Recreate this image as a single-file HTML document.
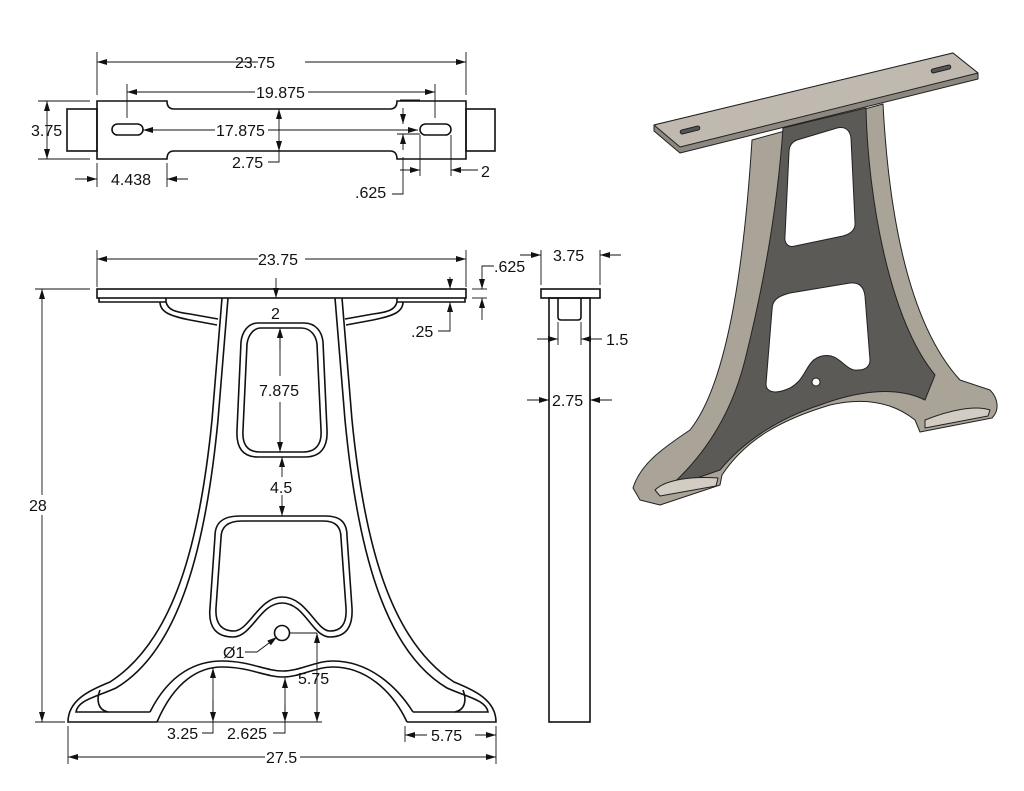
<!DOCTYPE html>
<html><head><meta charset="utf-8"><style>
html,body{margin:0;padding:0;background:#fff}
svg{display:block}
text{font-family:"Liberation Sans",Arial,sans-serif;font-size:16px;fill:#111}
</style></head><body>
<svg width="1024" height="791" viewBox="0 0 1024 791" xmlns="http://www.w3.org/2000/svg">
<defs>
<marker id="a" viewBox="0 0 10 6" refX="10" refY="3" markerWidth="10" markerHeight="6" orient="auto-start-reverse" markerUnits="userSpaceOnUse"><path d="M0,0 L10,3 L0,6 Z" fill="#111"/></marker>
</defs>
<g fill="none" stroke="#111" stroke-width="1.6">
<rect x="67" y="109" width="30" height="42"/>
<rect x="466" y="109" width="29" height="42"/>
<path d="M97,101 L167,101 C167,106 169,109 174,109 L390,109 C395,109 397,106 397,101 L466,101 L466,159 L397,159 C397,154 395,151 390,151 L174,151 C169,151 167,154 167,159 L97,159 Z"/>
<rect x="112" y="124" width="31" height="11" rx="5.5"/>
<rect x="420" y="124" width="31" height="11" rx="5.5"/>
</g>
<g stroke="#111" stroke-width="0.9" fill="none">
<line x1="97" y1="52" x2="97" y2="95"/><line x1="466" y1="52" x2="466" y2="95"/>
<line x1="97" y1="62" x2="258" y2="62" marker-start="url(#a)"/><line x1="305" y1="62" x2="466" y2="62" marker-end="url(#a)"/>
<line x1="127" y1="84" x2="127" y2="118"/><line x1="435" y1="84" x2="435" y2="118"/>
<line x1="127" y1="92" x2="255" y2="92" marker-start="url(#a)"/><line x1="308" y1="92" x2="435" y2="92" marker-end="url(#a)"/>
<line x1="143" y1="130" x2="215" y2="130" marker-start="url(#a)"/><line x1="268" y1="130" x2="418" y2="130" marker-end="url(#a)"/>
<line x1="38" y1="101" x2="90" y2="101"/><line x1="38" y1="159" x2="90" y2="159"/>
<line x1="47" y1="101" x2="47" y2="159" marker-start="url(#a)" marker-end="url(#a)"/>
<line x1="279" y1="109" x2="279" y2="151" marker-start="url(#a)" marker-end="url(#a)"/>
<polyline points="279,151 279,162 268,162"/>
<line x1="97" y1="163" x2="97" y2="187"/><line x1="167" y1="163" x2="167" y2="187"/>
<line x1="75" y1="179" x2="97" y2="179" marker-end="url(#a)"/><line x1="188" y1="179" x2="167" y2="179" marker-end="url(#a)"/>
<line x1="400" y1="100" x2="420" y2="100"/>
<line x1="403" y1="108" x2="403" y2="124" marker-end="url(#a)"/>
<line x1="397" y1="134" x2="420" y2="134"/>
<polyline points="403,157 403,194 392,194"/>
<line x1="403" y1="134" x2="403" y2="150" marker-start="url(#a)"/>
<line x1="420" y1="135" x2="420" y2="176"/>
<line x1="400" y1="170" x2="420" y2="170" marker-end="url(#a)"/>
<line x1="451" y1="135" x2="451" y2="176"/>
<line x1="478" y1="170" x2="451" y2="170" marker-end="url(#a)"/>
</g>
<text x="235" y="68">23.75</text>
<text x="256" y="98">19.875</text>
<text x="216" y="136">17.875</text>
<text x="31" y="136">3.75</text>
<text x="232" y="168">2.75</text>
<text x="111" y="185">4.438</text>
<text x="355" y="198">.625</text>
<text x="481" y="177">2</text>

<g fill="none" stroke="#111" stroke-width="1.6">
<rect x="97" y="289" width="369" height="9"/>
<path d="M99,298 L99,302 L166,302 M166,298 L166,302 M397,298 L397,302 L465,302 L465,298"/>
<path d="M166,302 C168,310 175,312 190,314 L218,319"/>
<path d="M160,302 C160,312 170,316 190,320 L217,325"/>
<path d="M397,302 C395,310 388,312 373,314 L345,319"/>
<path d="M403,302 C403,312 393,316 373,320 L346,325"/>
<path d="M222,298 L212,420 C200,540 175,640 110,682 C90,690 68,700 68,722 L157,722"/>
<path d="M228,298 L218,420 C206,545 180,650 116,688 C96,697 78,700 76,712 L150,712"/>
<path d="M100,690 C96,700 98,710 108,712"/>
<path d="M342,298 L352,420 C364,540 389,640 454,682 C474,690 496,700 496,722 L407,722"/>
<path d="M335,298 L345,420 C357,545 383,650 447,688 C467,697 486,700 488,712 L413,712"/>
<path d="M463,690 C467,700 465,710 455,712"/>
<path d="M157,722 C175,680 200,667 222,667 C250,667 265,677 283,677 C300,677 315,667 333,667 C365,667 392,690 407,722"/>
<path d="M150,712 C170,672 198,661 222,661 C250,661 265,671 283,671 C300,671 315,661 333,661 C368,661 396,685 413,712"/>
<path d="M258,323 L304,323 C316,323 322,332 323,342 L327,430 C328,448 320,457 305,457 L258,457 C243,457 236,448 237,430 L241,342 C242,332 248,323 258,323 Z"/>
<path d="M261,328 L301,328 C311,328 316,336 317,344 L321,430 C322,444 316,452 303,452 L260,452 C247,452 242,444 243,430 L247,344 C248,336 253,328 261,328 Z"/>
<path d="M215,536 C215,521 225,516 240,516 L325,516 C340,516 347,522 347,536 L352,608 C353,628 345,637 330,637 C312,637 305,603 282,603 C260,603 252,637 233,637 C217,637 208,628 210,608 Z"/>
<path d="M221,538 C221,526 229,521 242,521 L323,521 C336,521 341,527 341,538 L346,608 C347,624 341,631 330,631 C316,631 307,597 282,597 C259,597 249,631 234,631 C222,631 215,624 216,608 Z"/>
<circle cx="282" cy="633" r="7.5"/>
<rect x="541" y="289" width="59" height="9"/>
<rect x="549" y="298" width="41" height="424"/>
<path d="M558,298 L558,317 Q558,320 561,320 L578,320 Q581,320 581,317 L581,298"/>
</g>
<g stroke="#111" stroke-width="0.9" fill="none">
<line x1="97" y1="250" x2="97" y2="287"/><line x1="466" y1="250" x2="466" y2="287"/>
<line x1="97" y1="259" x2="258" y2="259" marker-start="url(#a)"/><line x1="305" y1="259" x2="466" y2="259" marker-end="url(#a)"/>
<line x1="276" y1="278" x2="276" y2="298" marker-end="url(#a)"/>
<line x1="35" y1="289" x2="90" y2="289"/><line x1="35" y1="722" x2="65" y2="722"/>
<line x1="42" y1="289" x2="42" y2="495" marker-start="url(#a)"/><line x1="42" y1="515" x2="42" y2="722" marker-end="url(#a)"/>
<line x1="450" y1="277" x2="450" y2="289" marker-end="url(#a)"/>
<polyline points="450,302 450,331 438,331"/>
<line x1="450" y1="310" x2="450" y2="302" marker-end="url(#a)"/>
<line x1="472" y1="289" x2="487" y2="289"/><line x1="472" y1="298" x2="487" y2="298"/>
<polyline points="494,266 482,266 482,289" marker-end="url(#a)"/>
<line x1="482" y1="320" x2="482" y2="298" marker-end="url(#a)"/>
<line x1="280" y1="350" x2="280" y2="328" marker-end="url(#a)"/>
<line x1="280" y1="376" x2="280" y2="328" marker-end="url(#a)"/>
<line x1="280" y1="402" x2="280" y2="452" marker-end="url(#a)"/>
<line x1="282" y1="477" x2="282" y2="457" marker-end="url(#a)"/>
<line x1="282" y1="495" x2="282" y2="516" marker-end="url(#a)"/>
<polyline points="245,652 257,652 277,637" marker-end="url(#a)"/>
<line x1="290" y1="633" x2="317" y2="633"/>
<line x1="317" y1="700" x2="317" y2="633" marker-end="url(#a)"/>
<line x1="317" y1="700" x2="317" y2="722" marker-end="url(#a)"/>
<line x1="157" y1="722" x2="322" y2="722"/>
<polyline points="202,733 213,733 213,700"/>
<line x1="213" y1="700" x2="213" y2="668" marker-end="url(#a)"/>
<line x1="213" y1="700" x2="213" y2="722" marker-end="url(#a)"/>
<polyline points="273,733 285,733 285,705"/>
<line x1="285" y1="705" x2="285" y2="678" marker-end="url(#a)"/>
<line x1="285" y1="705" x2="285" y2="722" marker-end="url(#a)"/>
<line x1="405" y1="726" x2="405" y2="742"/><line x1="496" y1="726" x2="496" y2="764"/>
<line x1="427" y1="735" x2="405" y2="735" marker-end="url(#a)"/><line x1="475" y1="735" x2="496" y2="735" marker-end="url(#a)"/>
<line x1="68" y1="726" x2="68" y2="764"/>
<line x1="68" y1="757" x2="265" y2="757" marker-start="url(#a)"/><line x1="300" y1="757" x2="496" y2="757" marker-end="url(#a)"/>
<line x1="541" y1="250" x2="541" y2="285"/><line x1="600" y1="250" x2="600" y2="285"/>
<line x1="520" y1="255" x2="541" y2="255" marker-end="url(#a)"/><line x1="621" y1="255" x2="600" y2="255" marker-end="url(#a)"/>
<line x1="558" y1="322" x2="558" y2="345"/><line x1="581" y1="322" x2="581" y2="345"/>
<line x1="537" y1="339" x2="558" y2="339" marker-end="url(#a)"/><line x1="602" y1="339" x2="581" y2="339" marker-end="url(#a)"/>
<line x1="527" y1="400" x2="549" y2="400" marker-end="url(#a)"/><line x1="612" y1="400" x2="590" y2="400" marker-end="url(#a)"/>
</g>
<text x="258" y="265">23.75</text>
<text x="271" y="319">2</text>
<text x="259" y="396">7.875</text>
<text x="270" y="493">4.5</text>
<text x="29" y="511">28</text>
<text x="411" y="337">.25</text>
<text x="494" y="272">.625</text>
<text x="223" y="658">Ø1</text>
<text x="298" y="684">5.75</text>
<text x="167" y="739">3.25</text>
<text x="227" y="739">2.625</text>
<text x="431" y="741">5.75</text>
<text x="266" y="763">27.5</text>
<text x="553" y="261">3.75</text>
<text x="606" y="345">1.5</text>
<text x="552" y="406">2.75</text>

<g stroke="#222" stroke-width="1" stroke-linejoin="round">
<path d="M654,125 L953,53 L978,73 L978,79 L680,153 L654,131 Z" fill="#8d887f"/>
<path d="M654,125 L953,53 L978,73 L680,147 Z" fill="#bfb9af"/>
<path d="M752,140 L883,104 C888,200 905,320 960,380 L990,390 C998,398 1000,410 992,418 L920,432 L915,420 C890,400 860,398 830,405 C780,420 745,440 722,475 L720,485 L660,505 L640,500 L633,488 C640,465 660,450 690,430 C730,380 745,250 752,140 Z" fill="#a9a398"/>
<path d="M783,128 L866,108 C868,200 890,320 935,375 L925,400 C895,385 855,392 820,405 C780,418 745,440 720,470 L668,488 C700,460 730,420 745,360 C765,280 778,200 783,128 Z" fill="#5c5a56"/>
<path d="M797,140 L837,128 C845,126 850,130 851,138 L855,222 C856,230 850,234 843,236 L795,246 C788,248 784,243 785,236 L789,152 C789,146 792,142 797,140 Z" fill="#fff"/>
<path d="M772,310 C772,300 778,296 790,293 L850,283 C860,282 864,288 865,296 L870,360 C870,366 866,370 858,370 C845,372 840,352 822,356 C805,360 808,378 790,388 C775,395 766,392 766,384 Z" fill="#fff"/>
<circle cx="816" cy="382" r="4" fill="#fff"/>
<rect x="680" y="128" width="20" height="4" rx="2" fill="#555" transform="rotate(-14 690 130)"/>
<rect x="931" y="67" width="20" height="4" rx="2" fill="#555" transform="rotate(-14 941 69)"/>
<path d="M655,490 C665,480 690,476 718,478 L716,486 L660,496 Z" fill="#d2ccc2"/>
<path d="M925,420 C950,410 975,405 990,410 L988,416 L925,428 Z" fill="#d2ccc2"/>
</g>
</svg>
</body></html>
